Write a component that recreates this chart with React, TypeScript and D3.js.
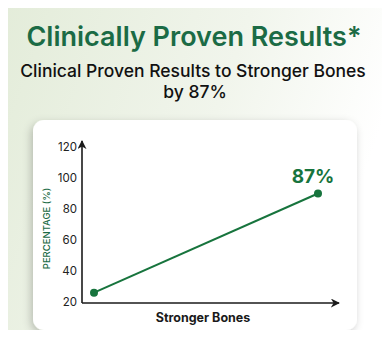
import React from 'react';
import * as d3 from 'd3';

// chart data
const categories = ['Start', 'Stronger Bones'];
const values = [26, 90];
const yTicks = [20, 40, 60, 80, 100, 120];
const pointLabel = '87%';

const W = 390;
const H = 338;
const GREEN = '#1b6b45';
const LINE = '#17743d';
const FONT = 'Inter, "Open Sans", sans-serif';

const App: React.FC = () => {
  const axisX = 82;
  const axisY = 303;
  const y = d3.scaleLinear().domain([20, 120]).range([302, 147]);
  const x = d3.scalePoint<string>().domain(categories).range([94, 318]);

  const line = d3.line<number>()
    .x((_, i) => x(categories[i]) as number)
    .y(d => y(d));

  const last = values.length - 1;

  return (
    <div style={{ margin: -8, width: W, height: H, overflow: 'hidden' }}>
      <svg width={W} height={H} style={{ display: 'block' }}>
        <defs>
          <linearGradient id="bg" x1="0" y1="0" x2="1" y2="0.3">
            <stop offset="0" stopColor="#e3ecd9" />
            <stop offset="0.6" stopColor="#f1f5ec" />
            <stop offset="1" stopColor="#ffffff" />
          </linearGradient>
          <filter id="shadow" x="-10%" y="-10%" width="120%" height="130%">
            <feDropShadow dx="-2" dy="3" stdDeviation="4" floodColor="#000" floodOpacity="0.22" />
          </filter>
          <marker id="arrow" viewBox="0 0 10 10" refX="9" refY="5" markerWidth="9" markerHeight="9" orient="auto" markerUnits="userSpaceOnUse">
            <path d="M0,0 L10,5 L0,10 L3,5 Z" fill="#1a1a1a" />
          </marker>
        </defs>
        <rect width={W} height={H} fill="url(#bg)" />

        <text x={194} y={46} textAnchor="middle" fontFamily={FONT} fontWeight={600} fontSize={27} fill={GREEN}>
          Clinically Proven Results*
        </text>
        <text x={193} y={77} textAnchor="middle" fontFamily={FONT} fontWeight={500} fontSize={17.5} fill="#111">
          Clinical Proven Results to Stronger Bones
        </text>
        <text x={195} y={98} textAnchor="middle" fontFamily={FONT} fontWeight={500} fontSize={17.5} fill="#111">
          by 87%
        </text>

        <rect x={33} y={120} width={324} height={210} rx={11} fill="#fff" filter="url(#shadow)" />

        {/* axes */}
        <line x1={axisX} y1={axisY} x2={axisX} y2={141} stroke="#1a1a1a" strokeWidth={1.6} markerEnd="url(#arrow)" />
        <line x1={axisX} y1={axisY} x2={339} y2={axisY} stroke="#1a1a1a" strokeWidth={1.6} markerEnd="url(#arrow)" />

        {yTicks.map(t => (
          <text key={t} x={77} y={y(t)} dy="0.35em" textAnchor="end" fontFamily={FONT} fontSize={11.5} fill="#222">
            {t}
          </text>
        ))}

        <text
          transform={`translate(50,${(y(20) + y(120)) / 2 + 4}) rotate(-90)`}
          textAnchor="middle"
          fontFamily={FONT}
          fontSize={9.5}
          fontWeight={500}
          fill={GREEN}
        >
          PERCENTAGE (%)
        </text>

        <text x={203} y={322} textAnchor="middle" fontFamily={FONT} fontWeight={700} fontSize={12.5} fill="#1a1a1a">
          {categories[1]}
        </text>

        <path d={line(values) ?? ''} fill="none" stroke={LINE} strokeWidth={2} />
        {values.map((v, i) => (
          <circle key={i} cx={x(categories[i])} cy={y(v)} r={4} fill={LINE} />
        ))}

        <text x={(x(categories[last]) as number) - 5} y={y(values[last]) - 11} textAnchor="middle" fontFamily={FONT} fontWeight={700} fontSize={19} fill={LINE}>
          {pointLabel}
        </text>
      </svg>
    </div>
  );
};

export default App;
